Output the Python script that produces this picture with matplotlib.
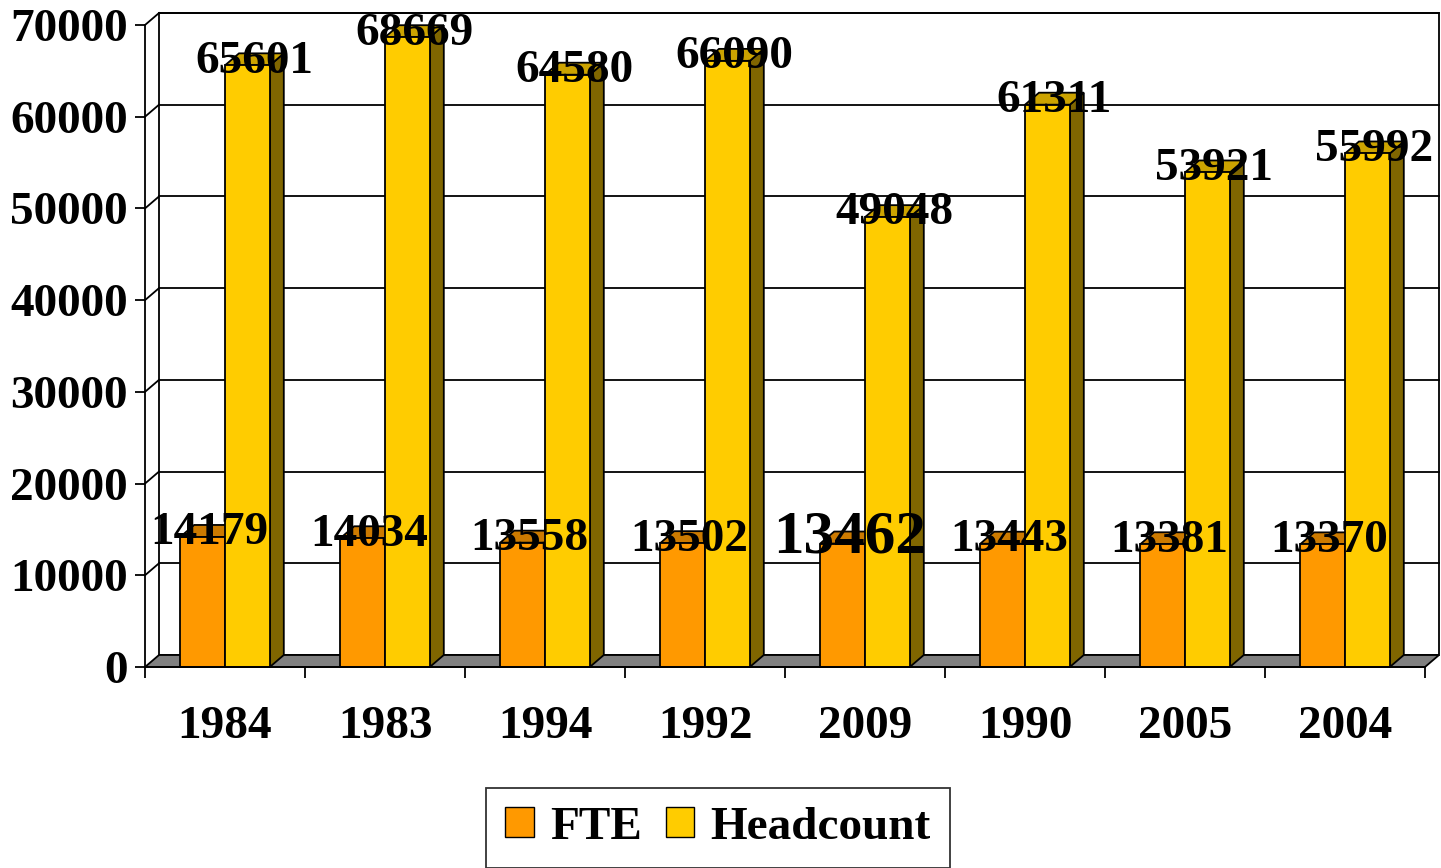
import matplotlib
matplotlib.use("Agg")
import matplotlib.pyplot as plt
from matplotlib.patches import Polygon, Patch

years = ["1984", "1983", "1994", "1992", "2009", "1990", "2005", "2004"]
fte = [14179, 14034, 13558, 13502, 13462, 13443, 13381, 13370]
headcount = [65601, 68669, 64580, 66090, 49048, 61311, 53921, 55992]

plt.rcParams['font.family'] = ['Liberation Serif', 'DejaVu Serif']
plt.rcParams['font.weight'] = 'bold'

FS = 34
DX = 0.0875      # depth offset in category units
DY = 1308        # depth offset in value units
W = 0.28         # bar width
LW = 1.3

fig = plt.figure(figsize=(14.41, 8.68), dpi=100)
ax = fig.add_axes([145 / 1441, 201 / 868, 1280 / 1441, 642 / 868])
ax.patch.set_visible(False)
n = len(years)
ax.set_xlim(-0.5, n - 0.5)
ax.set_ylim(0, 70000)


def poly(pts, fc, z):
    p = Polygon(pts, closed=True, facecolor=fc, edgecolor='black',
                linewidth=LW, zorder=z, clip_on=False)
    ax.add_patch(p)


# back wall + gridlines
x0, x1 = -0.5, n - 0.5
poly([(x0 + DX, DY), (x1 + DX, DY), (x1 + DX, 70000 + DY), (x0 + DX, 70000 + DY)], 'white', 0)
for v in range(10000, 70001, 10000):
    ax.plot([x0 + DX, x1 + DX], [v + DY, v + DY], color='black', lw=LW, zorder=1, clip_on=False)
    ax.plot([x0, x0 + DX], [v, v + DY], color='black', lw=LW, zorder=1, clip_on=False)

# floor
poly([(x0, 0), (x1, 0), (x1 + DX, DY), (x0 + DX, DY)], '#808080', 2)


def bar3d(xl, v, front, top, side, z):
    xr = xl + W
    poly([(xr, 0), (xr + DX, DY), (xr + DX, v + DY), (xr, v)], side, z)
    poly([(xl, v), (xr, v), (xr + DX, v + DY), (xl + DX, v + DY)], top, z)
    poly([(xl, 0), (xr, 0), (xr, v), (xl, v)], front, z)


for i in range(n):
    bar3d(i - W, fte[i], '#FF9900', '#CC7A00', '#804C00', 3)
    bar3d(i, headcount[i], '#FFCC00', '#CCA300', '#806600', 4)

# value labels
for i in range(n):
    big = years[i] == "2009"
    ax.text(i - W / 2 + DX / 2, fte[i] - (1000 if big else 800), str(fte[i]),
            ha='center', va='baseline', fontsize=44 if big else FS,
            fontweight='bold', zorder=10, clip_on=False)
    ax.text(i + W / 2 + DX / 2, headcount[i] - 800, str(headcount[i]),
            ha='center', va='baseline', fontsize=FS, fontweight='bold',
            zorder=10, clip_on=False)

# axes
for s in ['top', 'right']:
    ax.spines[s].set_visible(False)
for s in ['left', 'bottom']:
    ax.spines[s].set_linewidth(LW)
    ax.spines[s].set_zorder(5)
ax.set_yticks(range(0, 70001, 10000))
ax.set_yticklabels([str(v) for v in range(0, 70001, 10000)], fontsize=FS, fontweight='bold')
ax.tick_params(axis='y', direction='out', length=7.2, width=LW, pad=5)
ax.set_xticks(range(n))
ax.set_xticklabels(years, fontsize=FS, fontweight='bold')
ax.set_xticks([k - 0.5 for k in range(n + 1)], minor=True)
ax.tick_params(axis='x', which='major', length=0, pad=28)
ax.tick_params(axis='x', which='minor', direction='out', length=8, width=LW)

handles = [Patch(facecolor='#FF9900', edgecolor='black', label='FTE'),
           Patch(facecolor='#FFCC00', edgecolor='black', label='Headcount')]
leg = fig.legend(handles=handles, loc='center', bbox_to_anchor=(718 / 1441, 40 / 868),
                 ncol=2, fontsize=FS, frameon=True, fancybox=False,
                 handlelength=0.6, handleheight=0.6, handletextpad=0.35,
                 columnspacing=0.5, borderpad=0.4)
leg.get_frame().set_edgecolor('black')
leg.get_frame().set_linewidth(LW)
for t in leg.get_texts():
    t.set_fontweight('bold')

fig.savefig('out.png', dpi=100)
